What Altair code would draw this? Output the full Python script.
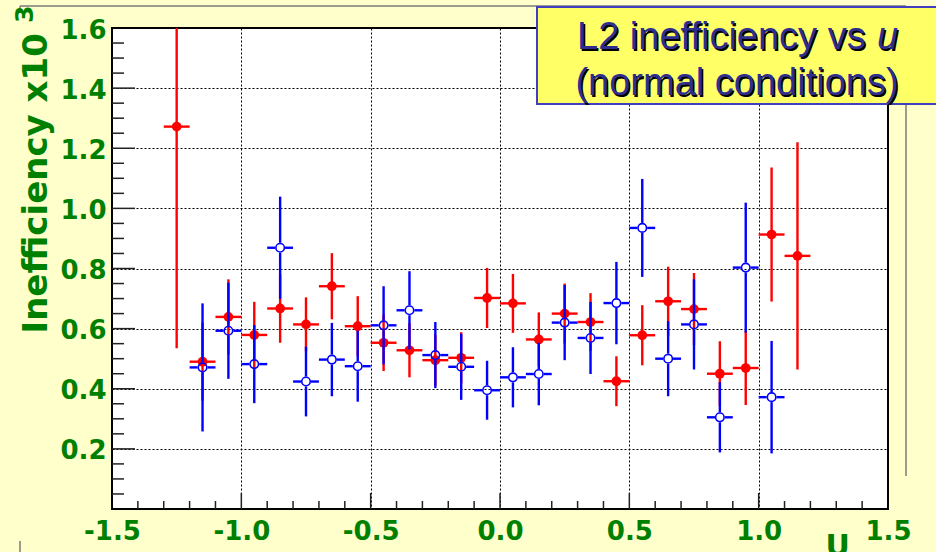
import altair as alt
import pandas as pd

# ---------------- data ----------------
u_red = [-1.25, -1.15, -1.05, -0.95, -0.85, -0.75, -0.65, -0.55, -0.45, -0.35,
         -0.25, -0.15, -0.05, 0.05, 0.15, 0.25, 0.35, 0.45, 0.55, 0.65,
         0.75, 0.85, 0.95, 1.05, 1.15]
red_val = [1.272, 0.490, 0.639, 0.579, 0.667, 0.614, 0.741, 0.608, 0.553, 0.528,
           0.495, 0.503, 0.702, 0.684, 0.564, 0.650, 0.622, 0.425, 0.578, 0.691,
           0.665, 0.450, 0.469, 0.913, 0.842]
red_err = [0.737, 0.130, 0.125, 0.110, 0.114, 0.090, 0.110, 0.100, 0.094, 0.090,
           0.085, 0.085, 0.100, 0.098, 0.090, 0.100, 0.096, 0.083, 0.100, 0.115,
           0.120, 0.108, 0.123, 0.223, 0.378]

u_blue = [-1.15, -1.05, -0.95, -0.85, -0.75, -0.65, -0.55, -0.45, -0.35, -0.25,
          -0.15, -0.05, 0.05, 0.15, 0.25, 0.35, 0.45, 0.55, 0.65, 0.75,
          0.85, 0.95, 1.05]
blue_val = [0.471, 0.593, 0.482, 0.869, 0.424, 0.497, 0.475, 0.611, 0.661, 0.512,
            0.473, 0.395, 0.438, 0.449, 0.620, 0.569, 0.685, 0.935, 0.500, 0.614,
            0.305, 0.803, 0.372]
blue_err = [0.213, 0.160, 0.130, 0.170, 0.116, 0.122, 0.118, 0.130, 0.130, 0.110,
            0.110, 0.098, 0.100, 0.104, 0.125, 0.120, 0.137, 0.163, 0.125, 0.150,
            0.117, 0.216, 0.187]

half_bin = 0.05

x_labels = [-1.5, -1.0, -0.5, 0.0, 0.5, 1.0, 1.5]
y_labels = [0.2, 0.4, 0.6, 0.8, 1.0, 1.2, 1.4, 1.6]
x_major_ticks = [-1.0, -0.5, 0.0, 0.5, 1.0]
x_minor_ticks = [-1.4, -1.3, -1.2, -1.1, -0.9, -0.8, -0.7, -0.6, -0.4, -0.3, -0.2, -0.1,
                 0.1, 0.2, 0.3, 0.4, 0.6, 0.7, 0.8, 0.9, 1.1, 1.2, 1.3, 1.4]
y_major_ticks = [0.2, 0.4, 0.6, 0.8, 1.0, 1.2, 1.4]
y_minor_ticks = [0.05, 0.1, 0.15, 0.25, 0.3, 0.35, 0.45, 0.5, 0.55, 0.65, 0.7, 0.75,
                 0.85, 0.9, 0.95, 1.05, 1.1, 1.15, 1.25, 1.3, 1.35, 1.45, 1.5, 1.55]

# ---------------- tables ----------------
red = pd.DataFrame({"u": u_red, "v": red_val, "e": red_err})
red["lo"] = red.v - red.e
red["hi"] = red.v + red.e
red["ul"] = red.u - half_bin
red["ur"] = red.u + half_bin

GX, GY = 0.019, 0.0165   # gap around hollow marker (marker radius)
blue = pd.DataFrame({"u": u_blue, "v": blue_val, "e": blue_err})
blue["lo"] = blue.v - blue.e
blue["hi"] = blue.v + blue.e
blue["glo"] = blue.v - GY
blue["ghi"] = blue.v + GY
blue["ul"] = blue.u - half_bin
blue["ur"] = blue.u + half_bin
blue["gl"] = blue.u - GX
blue["gr"] = blue.u + GX

W, H = 776, 481
GREEN = "#008000"
xs = alt.Scale(domain=[-1.5, 1.5], nice=False, zero=False)
ys = alt.Scale(domain=[0, 1.6], nice=False, zero=False)

xaxis = alt.Axis(
    values=x_labels,
    labelExpr="datum.value < 0 ? '-' + format(-datum.value, '.1f') : format(datum.value, '.1f')",
    ticks=False, domain=False, grid=True, gridDash=[2, 2], gridColor="black",
    gridWidth=1, gridOpacity=1,
    labelFont="DejaVu Sans", labelFontWeight="bold", labelFontSize=26,
    labelColor=GREEN, labelPadding=9, labelFlush=False, labelOverlap=False,
    title="U", titleFont="DejaVu Sans", titleFontWeight="bold", titleFontSize=30,
    titleColor=GREEN, titleX=713, titleY=46, titleAlign="left",
    titleBaseline="alphabetic",
)
yaxis = alt.Axis(
    values=y_labels, format=".1f",
    ticks=False, domain=False, grid=True, gridDash=[2, 2], gridColor="black",
    gridWidth=1, gridOpacity=1,
    labelFont="DejaVu Sans", labelFontWeight="bold", labelFontSize=26,
    labelColor=GREEN, labelPadding=6, labelOffset=2, labelOverlap=False,
    title="Inefficiency x10", titleFont="DejaVu Sans", titleFontWeight="bold",
    titleFontSize=34, titleColor=GREEN, titleAngle=270, titleX=-66, titleY=305,
    titleAlign="left", titleBaseline="alphabetic",
)

def X(f):
    return alt.X(f, type="quantitative", scale=xs, axis=xaxis)

def Y(f):
    return alt.Y(f, type="quantitative", scale=ys, axis=yaxis)

one = pd.DataFrame({"k": [0]})
GRAY = "#7a7a7a"

# decoration frame lines (slide background)
deco = [
    alt.Chart(one).mark_rule(color=GRAY, strokeWidth=1.5).encode(
        x=alt.value(-92), x2=alt.value(794), y=alt.value(-22)),
    alt.Chart(one).mark_rule(color=GRAY, strokeWidth=1.5).encode(
        x=alt.value(-92), y=alt.value(-22), y2=alt.value(-16)),
    alt.Chart(one).mark_rule(color=GRAY, strokeWidth=1.5).encode(
        x=alt.value(794), y=alt.value(-22), y2=alt.value(448)),
    alt.Chart(one).mark_rule(color=GRAY, strokeWidth=1.5).encode(
        x=alt.value(-92), y=alt.value(513), y2=alt.value(530)),
]

TICK = "#222222"
ticks = [
    alt.Chart(pd.DataFrame({"t": y_major_ticks})).mark_rule(color=TICK, strokeWidth=1.5).encode(
        y=Y("t"), x=alt.value(0), x2=alt.value(23)),
    alt.Chart(pd.DataFrame({"t": y_minor_ticks})).mark_rule(color=TICK, strokeWidth=1.5).encode(
        y=Y("t"), x=alt.value(0), x2=alt.value(12)),
    alt.Chart(pd.DataFrame({"t": x_major_ticks})).mark_rule(color=TICK, strokeWidth=1.5).encode(
        x=X("t"), y=alt.value(H), y2=alt.value(H - 16)),
    alt.Chart(pd.DataFrame({"t": x_minor_ticks})).mark_rule(color=TICK, strokeWidth=1.5).encode(
        x=X("t"), y=alt.value(H), y2=alt.value(H - 8)),
]

LW = 2.4
red_v = alt.Chart(red).mark_rule(color="#ff0000", strokeWidth=LW, clip=True).encode(
    x=X("u"), y=Y("lo"), y2="hi")
red_h = alt.Chart(red).mark_rule(color="#ff0000", strokeWidth=LW, clip=True).encode(
    x=X("ul"), x2="ur", y=Y("v"))
red_pt = alt.Chart(red).mark_circle(color="#ff0000", size=95, opacity=1).encode(
    x=X("u"), y=Y("v"))

blue_v1 = alt.Chart(blue).mark_rule(color="#0000ff", strokeWidth=LW, clip=True).encode(
    x=X("u"), y=Y("lo"), y2="glo")
blue_v2 = alt.Chart(blue).mark_rule(color="#0000ff", strokeWidth=LW, clip=True).encode(
    x=X("u"), y=Y("ghi"), y2="hi")
blue_h1 = alt.Chart(blue).mark_rule(color="#0000ff", strokeWidth=LW, clip=True).encode(
    x=X("ul"), x2="gl", y=Y("v"))
blue_h2 = alt.Chart(blue).mark_rule(color="#0000ff", strokeWidth=LW, clip=True).encode(
    x=X("gr"), x2="ur", y=Y("v"))
blue_pt = alt.Chart(blue).mark_point(shape="circle", filled=False, size=72,
                                     stroke="#0000ff", strokeWidth=1.6, opacity=1).encode(
    x=X("u"), y=Y("v"))

# title box
box = alt.Chart(one).mark_rect(fill="#ffff66", stroke="#3f3fbf", strokeWidth=2).encode(
    x=alt.value(425), x2=alt.value(832), y=alt.value(-21), y2=alt.value(76))

TF = "Liberation Sans"
TS = 38
NAVY = "#2e2e8f"
SH = "#000000"

def tx(text, x, y, align, color, italic=False, d=0.0):
    return alt.Chart(one).mark_text(
        text=text, font=TF, fontSize=TS, align=align, baseline="alphabetic",
        color=color, fontStyle="italic" if italic else "normal", dx=d, dy=d,
    ).encode(x=alt.value(x), y=alt.value(y))

title_layers = []
for col, d in ((SH, 1.5), (NAVY, 0)):
    title_layers += [
        tx("L2 inefficiency vs", 465, 21, "left", col, d=d),
        tx("u", 765, 21, "left", col, italic=True, d=d),
        tx("(normal conditions)", 625, 67, "center", col, d=d),
    ]

sup = alt.Chart(one).mark_text(
    text="3", font="DejaVu Sans", fontWeight="bold", fontSize=25, angle=270,
    align="left", baseline="alphabetic", color=GREEN,
).encode(x=alt.value(-79), y=alt.value(-5))

chart = alt.layer(
    *deco, *ticks, red_v, red_h, red_pt, blue_v1, blue_v2, blue_h1, blue_h2, blue_pt,
    box, *title_layers, sup,
).properties(
    width=W, height=H,
    autosize=alt.AutoSizeParams(type="none"),
    padding={"left": 112, "top": 28, "right": 48, "bottom": 43},
    background="#ffffcc",
).configure_view(stroke="black", strokeWidth=2, fill="white")

chart.save("out.html", embed_options={"renderer": "svg", "actions": False})
